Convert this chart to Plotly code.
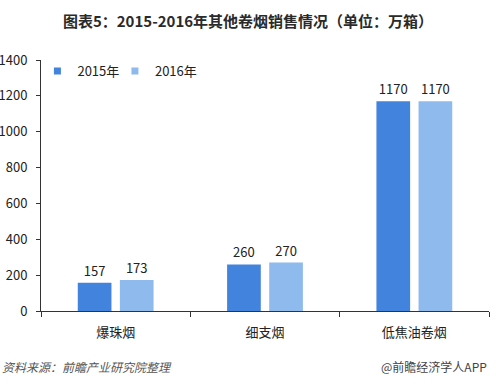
import plotly.graph_objects as go

categories = ["爆珠烟", "细支烟", "低焦油卷烟"]
series_names = ["2015年", "2016年"]
values_2015 = [157, 260, 1170]
values_2016 = [173, 270, 1170]
y_ticks = [0, 200, 400, 600, 800, 1000, 1200, 1400]

FONT = "Noto Sans CJK SC"
colors = ["#4283DE", "#8EBAEE"]

fig = go.Figure()
for name, vals, c in zip(series_names, [values_2015, values_2016], colors):
    fig.add_trace(go.Bar(
        x=categories, y=vals, name=name, marker=dict(color=c, line=dict(width=0)),
        text=[str(v) for v in vals], textposition="outside",
        textfont=dict(family=FONT, size=13, color="#222"), cliponaxis=False,
        showlegend=False,
    ))
# legend proxies with small square markers, one legend each
for name, c, lg in zip(series_names, colors, ["legend", "legend2"]):
    fig.add_trace(go.Scatter(x=[None], y=[None], mode="markers", name=name, legend=lg,
                             marker=dict(symbol="square", size=7, color=c)))

legend_common = dict(orientation="h", xanchor="left", y=0.956, yanchor="middle",
                     font=dict(family=FONT, size=13, color="#222"),
                     bgcolor="rgba(0,0,0,0)", itemwidth=30)

fig.update_layout(
    width=496, height=385,
    margin=dict(l=41, r=7, t=60, b=74),
    paper_bgcolor="white", plot_bgcolor="white",
    barmode="group", bargap=0.436, bargroupgap=0.2,
    font=dict(family=FONT, size=12, color="#222"),
    title=dict(text="<b>图表5：2015-2016年其他卷烟销售情况（单位：万箱）</b>",
               x=0.5, xanchor="center", y=1 - 22/385, yanchor="middle",
               font=dict(family=FONT, size=15, color="#2a2a2a")),
    legend=dict(x=-0.008, **legend_common),
    legend2=dict(x=0.165, **legend_common),
    xaxis=dict(showline=True, linecolor="#333", linewidth=1, ticks="outside",
               tickson="boundaries", ticklen=5, tickcolor="#333", automargin=False,
               ticklabelstandoff=9,
               tickfont=dict(family=FONT, size=13, color="#222"), showgrid=False),
    yaxis=dict(range=[0, 1400], tickvals=y_ticks, showline=True, linecolor="#333",
               linewidth=1, ticks="outside", ticklen=4, tickcolor="#333", automargin=False,
               ticklabelstandoff=6,
               tickfont=dict(family=FONT, size=13, color="#222"), showgrid=False,
               zeroline=False),
    showlegend=True,
)

fig.add_annotation(text="<i>资料来源：前瞻产业研究院整理</i>", xref="paper", yref="paper",
                   x=-41/448, xanchor="left", y=-(366-311)/251, yanchor="middle",
                   showarrow=False, font=dict(family=FONT, size=12, color="#555"))
fig.add_annotation(text="@前瞻经济学人APP", xref="paper", yref="paper",
                   x=1, xanchor="right", y=-(366-311)/251, yanchor="middle",
                   showarrow=False, font=dict(family=FONT, size=12, color="#444"))

fig.write_html("out.html", config={"displayModeBar": False},
               post_script="document.body.style.margin='0';")
